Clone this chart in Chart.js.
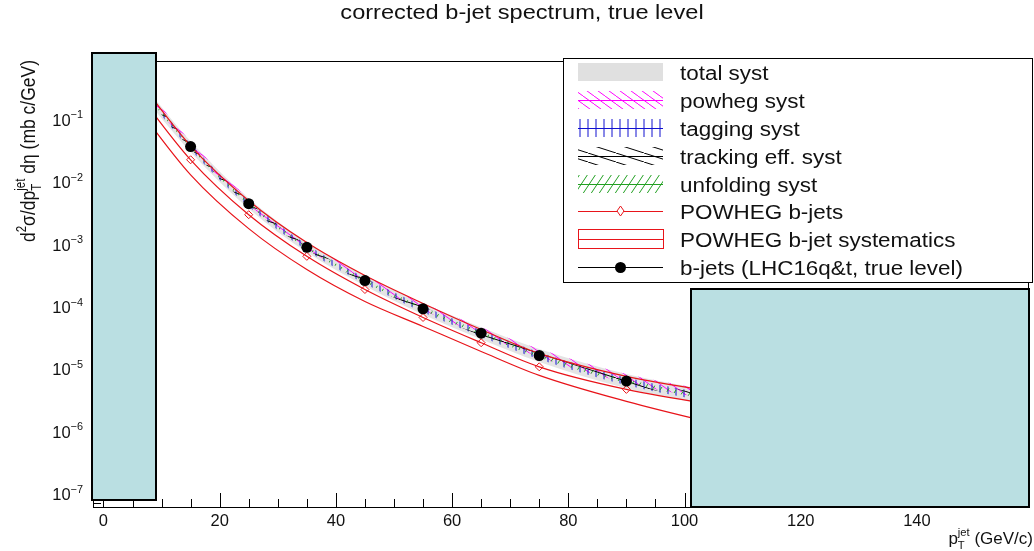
<!DOCTYPE html>
<html>
<head>
<meta charset="utf-8">
<script src="https://cdn.jsdelivr.net/npm/chart.js@4.4.1/dist/chart.umd.min.js"></script>
<style>
  html, body { margin: 0; padding: 0; background: #fff; }
  #wrap { position: relative; width: 1034px; height: 551px; overflow: hidden; }
  #c { position: absolute; left: 0; top: 0; }
  .mask { position: absolute; box-sizing: border-box; background: #badfe2; border: 2px solid #000; }
</style>
</head>
<body>
<div id="wrap">
  <canvas id="c" width="1034" height="551"></canvas>
  <div class="mask" style="left:91px; top:52px; width:66px; height:449px;"></div>
  <div class="mask" style="left:690px; top:288px; width:340px; height:220px;"></div>
</div>
<script>
// ---------- data ----------
const binCenters = [5, 15, 25, 35, 45, 55, 65, 75, 90, 110];
const bjetValues = [0.47, 0.036, 4.37e-3, 8.73e-4, 2.56e-4, 9.02e-5, 3.67e-5, 1.61e-5, 6.27e-6, 2.75e-6];
const powhegCentral = [0.337, 0.0221, 2.91e-3, 6.26e-4, 1.84e-4, 6.55e-5, 2.58e-5, 1.06e-5, 4.61e-6, 2.21e-6];
const powhegUpper = [0.565, 0.037, 4.88e-3, 1.04e-3, 3.08e-4, 1.10e-4, 4.21e-5, 1.74e-5, 7.45e-6, 3.56e-6];
const powhegLower = [0.194, 0.0127, 1.74e-3, 3.84e-4, 1.18e-4, 4.70e-5, 1.87e-5, 7.73e-6, 2.96e-6, 1.02e-6];

// relative systematics (fraction of the b-jet value)
const totalSystUp    = [0.24, 0.22, 0.21, 0.21, 0.22, 0.23, 0.25, 0.27, 0.30, 0.32];
const totalSystDown  = [0.20, 0.18, 0.17, 0.17, 0.18, 0.19, 0.20, 0.21, 0.23, 0.24];
const powhegSystUp   = [0.24, 0.22, 0.21, 0.21, 0.22, 0.23, 0.25, 0.27, 0.30, 0.32];
const powhegSystDown = [0.04, 0.04, 0.04, 0.04, 0.04, 0.04, 0.05, 0.05, 0.06, 0.06];
const taggingSyst    = [0.11, 0.11, 0.11, 0.11, 0.11, 0.12, 0.12, 0.13, 0.14, 0.14];
const trackingSyst   = [0.07, 0.07, 0.07, 0.07, 0.08, 0.08, 0.09, 0.09, 0.10, 0.10];
const unfoldingSyst  = [0.05, 0.05, 0.05, 0.05, 0.05, 0.06, 0.06, 0.07, 0.07, 0.07];

const xTickLabels = [0, 20, 40, 60, 80, 100, 120, 140];
const yTickValues = [1e-1, 1e-2, 1e-3, 1e-4, 1e-5, 1e-6, 1e-7];
const legendLabels = ['total syst', 'powheg syst', 'tagging syst', 'tracking eff. syst',
  'unfolding syst', 'POWHEG b-jets', 'POWHEG b-jet systematics', 'b-jets (LHC16q&t, true level)'];
const titleText = 'corrected b-jet spectrum, true level';

// ---------- helpers ----------
const FONT = '"Liberation Sans", Arial, Helvetica, sans-serif';
const RED = '#e8141a';
const canvas = document.getElementById('c');
const ctx = canvas.getContext('2d');

function pts(vals) { return binCenters.map((x, i) => ({ x: x, y: vals[i] })); }
function scaled(rel, sign) { return binCenters.map((x, i) => ({ x: x, y: bjetValues[i] * (1 + sign * rel[i]) })); }

function makeHatch(color, w, h, kind, lw) {
  const c = document.createElement('canvas');
  c.width = w; c.height = h;
  const g = c.getContext('2d');
  g.strokeStyle = color;
  g.lineWidth = lw || 1;
  g.beginPath();
  if (kind === 'vert') {
    g.moveTo(w / 2, 0); g.lineTo(w / 2, h);
  } else {
    for (let k = -1; k <= 1; k++) {
      if (kind === 'back') { g.moveTo(k * w, 0); g.lineTo((k + 1) * w, h); }
      else { g.moveTo(k * w, h); g.lineTo((k + 1) * w, 0); }
    }
  }
  g.stroke();
  return ctx.createPattern(c, 'repeat');
}

const hatchPowheg = makeHatch('#ff00ff', 11, 8, 'back', 1);
const hatchTagging = makeHatch('#1010d0', 8, 8, 'vert', 1);
const hatchTracking = makeHatch('#000000', 28, 9, 'back', 1);
const hatchUnfolding = makeHatch('#22a022', 8, 12, 'fwd', 1);

function band(up, down, pattern, order) {
  const common = { borderWidth: 0, borderColor: 'rgba(0,0,0,0)', pointRadius: 0,
    cubicInterpolationMode: 'monotone', order: order };
  return [
    Object.assign({ data: up, fill: false }, common),
    Object.assign({ data: down, fill: '-1', backgroundColor: pattern }, common)
  ];
}

// rich text: runs of {t, k} with k = 'n' | 'sup' | 'sub' | 'subsup'
function runWidth(g, r, size) {
  if (r.k === 'n') { g.font = size + 'px ' + FONT; return g.measureText(r.t).width; }
  g.font = (size * 0.66) + 'px ' + FONT;
  if (r.k === 'subsup') return Math.max(g.measureText(r.sub).width, g.measureText(r.sup).width);
  return g.measureText(r.t).width;
}
function runsWidth(g, runs, size) { return runs.reduce((s, r) => s + runWidth(g, r, size), 0); }
function drawRuns(g, runs, x, y, size) {
  let cx = x;
  g.textAlign = 'left';
  g.textBaseline = 'alphabetic';
  for (const r of runs) {
    const w = runWidth(g, r, size);
    if (r.k === 'n') g.fillText(r.t, cx, y);
    else if (r.k === 'sup') g.fillText(r.t, cx, y - size * 0.45);
    else if (r.k === 'sub') g.fillText(r.t, cx, y + size * 0.28);
    else { g.fillText(r.sub, cx, y + size * 0.28); g.fillText(r.sup, cx, y - size * 0.5); }
    cx += w;
  }
}

// ---------- ROOT-like frame, axes, legend ----------
const rootFrame = {
  id: 'rootFrame',
  afterDraw(chart) {
    const g = chart.ctx;
    const a = chart.chartArea;
    const xs = chart.scales.x, ys = chart.scales.y;
    g.save();
    g.fillStyle = '#000';
    g.strokeStyle = '#000';
    g.lineWidth = 1;

    // frame
    g.strokeRect(Math.round(a.left) + 0.5, Math.round(a.top) + 0.5,
      Math.round(a.right - a.left) - 1, Math.round(a.bottom - a.top));

    // x ticks (inside the frame)
    g.beginPath();
    for (let v = 0; v <= xs.max; v += 5) {
      const px = Math.round(xs.getPixelForValue(v)) + 0.5;
      const len = (v % 20 === 0) ? 14 : 8;
      g.moveTo(px, a.bottom); g.lineTo(px, a.bottom - len);
    }
    // y ticks (log)
    for (let e = -8; e <= 0; e++) {
      for (let m = 1; m <= 9; m++) {
        const v = m * Math.pow(10, e);
        if (v < ys.min || v > ys.max) continue;
        const py = Math.round(ys.getPixelForValue(v)) + 0.5;
        const len = (m === 1) ? 14 : 8;
        g.moveTo(a.left, py); g.lineTo(a.left + len, py);
      }
    }
    g.stroke();

    // x tick labels
    g.fillStyle = '#111';
    g.font = '16.5px ' + FONT;
    g.textAlign = 'center';
    g.textBaseline = 'alphabetic';
    xTickLabels.forEach(v => g.fillText(String(v), xs.getPixelForValue(v), 526));

    // y tick labels 10^n
    yTickValues.forEach(v => {
      const ex = Math.round(Math.log10(v));
      const runs = [{ t: '10', k: 'n' }, { t: (ex < 0 ? '\u2212' : '') + Math.abs(ex), k: 'sup' }];
      const w = runsWidth(g, runs, 16.5);
      drawRuns(g, runs, 83 - w, ys.getPixelForValue(v) + 7, 16.5);
    });

    // x title
    const xt = [{ t: 'p', k: 'n' }, { k: 'subsup', sub: 'T', sup: 'jet' }, { t: ' (GeV/c)', k: 'n' }];
    const xw = runsWidth(g, xt, 17);
    drawRuns(g, xt, 1033 - xw, 544, 17);

    // y title (rotated)
    const yt = [{ t: 'd', k: 'n' }, { t: '2', k: 'sup' }, { t: '\u03c3/dp', k: 'n' },
      { k: 'subsup', sub: 'T', sup: 'jet' }, { t: ' d\u03b7 (mb c/GeV)', k: 'n' }];
    g.save();
    g.translate(35, 151);
    g.rotate(-Math.PI / 2);
    g.scale(1, 1.2);
    const yw = runsWidth(g, yt, 17.5);
    drawRuns(g, yt, -yw / 2, 0, 17.5);
    g.restore();

    // title
    g.save();
    g.translate(522, 19);
    g.scale(1.18, 1);
    g.font = '20px ' + FONT;
    g.textAlign = 'center';
    g.fillText(titleText, 0, 0);
    g.restore();

    // legend
    const lx = 563.5, ly = 58.5, lw = 469, lh = 224;
    g.fillStyle = '#fff';
    g.fillRect(lx, ly, lw, lh);
    g.strokeStyle = '#000';
    g.strokeRect(lx, ly, lw, lh);
    const sx0 = 578, sx1 = 663, smid = 620.5;
    legendLabels.forEach((label, i) => {
      const cy = Math.round(71.7 + i * 27.95);
      g.lineWidth = 1;
      if (i === 0) {
        g.fillStyle = '#e0e0e0';
        g.fillRect(sx0, cy - 9, sx1 - sx0, 18);
      } else if (i >= 1 && i <= 4) {
        const pat = [hatchPowheg, hatchTagging, hatchTracking, hatchUnfolding][i - 1];
        const col = ['#ff00ff', '#1010d0', '#000000', '#22a022'][i - 1];
        g.fillStyle = pat;
        g.fillRect(sx0, cy - 9, sx1 - sx0, 18);
        g.strokeStyle = col;
        g.beginPath(); g.moveTo(sx0, cy + 0.5); g.lineTo(sx1, cy + 0.5); g.stroke();
      } else if (i === 5) {
        g.strokeStyle = RED;
        g.beginPath(); g.moveTo(sx0, cy + 0.5); g.lineTo(sx1, cy + 0.5); g.stroke();
        g.fillStyle = '#fff';
        g.beginPath();
        g.moveTo(smid, cy - 5); g.lineTo(smid + 3.5, cy); g.lineTo(smid, cy + 5); g.lineTo(smid - 3.5, cy);
        g.closePath(); g.fill(); g.stroke();
      } else if (i === 6) {
        g.strokeStyle = RED;
        g.strokeRect(sx0 + 0.5, cy - 9.5, sx1 - sx0, 19);
        g.beginPath(); g.moveTo(sx0, cy + 0.5); g.lineTo(sx1, cy + 0.5); g.stroke();
      } else {
        g.strokeStyle = '#000';
        g.beginPath(); g.moveTo(sx0, cy + 0.5); g.lineTo(sx1, cy + 0.5); g.stroke();
        g.fillStyle = '#000';
        g.beginPath(); g.arc(smid, cy + 0.5, 5.5, 0, Math.PI * 2); g.fill();
      }
      g.save();
      g.translate(680, cy + 7.5);
      g.scale(1.15, 1);
      g.fillStyle = '#111';
      g.font = '19.5px ' + FONT;
      g.textAlign = 'left';
      g.fillText(label, 0, 0);
      g.restore();
    });
    g.restore();
  }
};

// ---------- chart ----------
const datasets = [].concat(
  [{ data: pts(bjetValues), showLine: false, pointRadius: 5.5, pointBackgroundColor: '#000',
     pointBorderColor: '#000', pointBorderWidth: 0, order: 1 }],
  [{ data: pts(powhegCentral), borderColor: RED, borderWidth: 1.2, pointStyle: 'rectRot',
     pointRadius: 4, pointBackgroundColor: 'rgba(255,255,255,0)', pointBorderColor: RED,
     pointBorderWidth: 1, cubicInterpolationMode: 'monotone', fill: false, order: 2 }],
  [{ data: pts(powhegUpper), borderColor: RED, borderWidth: 1.2, pointRadius: 0,
     cubicInterpolationMode: 'monotone', fill: false, order: 3 }],
  [{ data: pts(powhegLower), borderColor: RED, borderWidth: 1.2, pointRadius: 0,
     cubicInterpolationMode: 'monotone', fill: false, order: 3 }],
  band(scaled(unfoldingSyst, 1), scaled(unfoldingSyst, -1), hatchUnfolding, 6),
  band(scaled(trackingSyst, 1), scaled(trackingSyst, -1), hatchTracking, 7),
  band(scaled(taggingSyst, 1), scaled(taggingSyst, -1), hatchTagging, 8),
  band(scaled(powhegSystUp, 1), scaled(powhegSystDown, -1), hatchPowheg, 9),
  band(scaled(totalSystUp, 1), scaled(totalSystDown, -1), '#e4e4e4', 10)
);

const chart = new Chart(ctx, {
  type: 'line',
  data: { datasets: datasets },
  options: {
    responsive: false,
    animation: false,
    layout: { padding: { left: 93, right: 2, top: 61, bottom: 44 } },
    scales: {
      x: { type: 'linear', min: -1.8, max: 159.2, display: false },
      y: { type: 'logarithmic', min: 6.2e-8, max: 0.847, display: false }
    },
    plugins: { legend: { display: false }, tooltip: { enabled: false } }
  },
  plugins: [rootFrame]
});
</script>
</body>
</html>
